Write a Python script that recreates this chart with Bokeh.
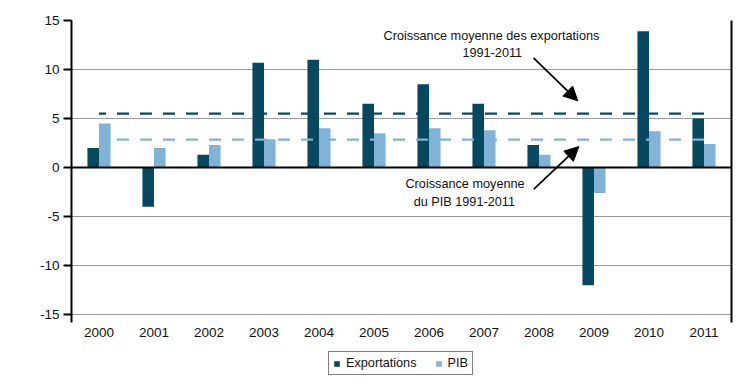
from bokeh.plotting import figure
from bokeh.layouts import column
from bokeh.models import (FactorRange, Range1d, FixedTicker, Span, Arrow, NormalHead,
                          Label, Legend, LegendItem, LinearAxis, ColumnDataSource)
from bokeh.transform import dodge
from bokeh.embed import file_html
from bokeh.resources import INLINE

years = ["2000", "2001", "2002", "2003", "2004", "2005",
         "2006", "2007", "2008", "2009", "2010", "2011"]
exportations = [2.0, -4.0, 1.3, 10.7, 11.0, 6.5, 8.5, 6.5, 2.3, -12.0, 13.9, 5.0]
pib = [4.5, 2.0, 2.3, 2.9, 4.0, 3.5, 4.0, 3.8, 1.3, -2.6, 3.7, 2.4]
avg_exportations = 5.5
avg_pib = 2.85
y_ticks = [-15, -10, -5, 0, 5, 10, 15]
series_names = ["Exportations", "PIB"]

DARK = "#05485F"
LIGHT = "#80B3D6"
FONT = "Liberation Sans"

src = ColumnDataSource(dict(year=years, exp=exportations, pib=pib))

p = figure(frame_width=660, frame_height=302, output_backend="svg", toolbar_location=None,
           x_range=FactorRange(factors=years, range_padding=0),
           y_range=Range1d(-15.8, 15),
           min_border_left=71, min_border_right=11, min_border_top=20, min_border_bottom=28)
p.outline_line_color = None
p.background_fill_color = "white"
p.border_fill_color = "white"

# bars
r_exp = p.vbar(x=dodge("year", -0.105, range=p.x_range), top="exp", bottom=0, width=0.21,
               source=src, fill_color=DARK, line_color=None)
r_pib = p.vbar(x=dodge("year", 0.105, range=p.x_range), top="pib", bottom=0, width=0.21,
               source=src, fill_color=LIGHT, line_color=None)

# average lines
p.line(x=[years[0], years[-1]], y=[avg_exportations, avg_exportations], line_color=DARK,
       line_width=2.2, line_dash="12 11", line_dash_offset=5)
p.line(x=[years[0], years[-1]], y=[avg_pib, avg_pib], line_color=LIGHT,
       line_width=2.2, line_dash="12 11", line_dash_offset=5)

# zero line
p.add_layout(Span(location=0, dimension="width", line_color="black", line_width=2))

# grid
p.xgrid.visible = False
p.ygrid.ticker = FixedTicker(ticks=[t for t in y_ticks if t != 0])
p.ygrid.grid_line_color = "#999999"
p.ygrid.grid_line_width = 1

# y axis
ya = p.yaxis[0]
ya.ticker = FixedTicker(ticks=y_ticks)
ya.major_label_overrides = {t: str(t) for t in y_ticks}
ya.axis_line_width = 2
ya.axis_line_color = "black"
ya.major_tick_line_width = 2
ya.major_tick_out = 8
ya.major_tick_in = 0
ya.minor_tick_line_color = None
ya.major_label_standoff = 4
ya.major_label_text_font = FONT
ya.major_label_text_font_size = "13.5px"
ya.major_label_text_color = "#111111"

# x axis
xa = p.xaxis[0]
xa.axis_line_color = None
xa.major_tick_line_color = None
xa.major_tick_out = 0
xa.major_tick_in = 0
xa.major_label_standoff = 5
xa.major_label_text_font = FONT
xa.major_label_text_font_size = "13.5px"
xa.major_label_text_color = "#111111"

# right border line
ra = LinearAxis(ticker=FixedTicker(ticks=[]), axis_line_width=2, axis_line_color="black",
                major_tick_line_color=None, minor_tick_line_color=None,
                major_label_text_font_size="0px")
p.add_layout(ra, "right")

# annotations
lab_kw = dict(text_font=FONT, text_font_size="12.7px", text_align="center",
              text_baseline="middle", text_color="#111111")
p.add_layout(Label(x=7.636, y=13.44, text="Croissance moyenne des exportations", **lab_kw))
p.add_layout(Label(x=7.65, y=11.70, text="1991-2011", **lab_kw))
p.add_layout(Label(x=7.155, y=-1.66, text="Croissance moyenne", **lab_kw))
p.add_layout(Label(x=7.142, y=-3.50, text="du PIB 1991-2011", **lab_kw))

head_kw = dict(size=14, fill_color="black", line_color="black")
p.add_layout(Arrow(end=NormalHead(**head_kw), x_start=8.40, y_start=11.19, x_end=9.205, y_end=6.81,
                   line_color="black", line_width=1.8))
p.add_layout(Arrow(end=NormalHead(**head_kw), x_start=8.406, y_start=-2.20, x_end=9.224, y_end=2.14,
                   line_color="black", line_width=1.8))

# legend strip (separate small figure so the legend is not clipped)
q = figure(width=742, height=28, output_backend="svg", toolbar_location=None,
           x_range=Range1d(0, 1), y_range=Range1d(0, 1),
           min_border=0, min_border_left=0, min_border_right=0, min_border_top=0, min_border_bottom=0)
q.axis.visible = False
q.grid.visible = False
q.outline_line_color = None
q.border_fill_color = "white"
q.background_fill_color = "white"
# zero-size proxies: only their colours are used, by the legend swatches
k_exp = q.vbar(x=[0], top=[0], bottom=0, width=0, fill_color=DARK, line_color=None)
k_pib = q.vbar(x=[0], top=[0], bottom=0, width=0, fill_color=LIGHT, line_color=None)

legend = Legend(items=[LegendItem(label=series_names[0], renderers=[k_exp]),
                       LegendItem(label=series_names[1], renderers=[k_pib])],
                orientation="horizontal", location=(257, 3), margin=0,
                border_line_color="black", border_line_width=1, background_fill_color="white",
                padding=4, spacing=18,
                glyph_width=7, glyph_height=7, label_standoff=6, label_height=8,
                label_text_font=FONT, label_text_font_size="12.7px", label_text_color="#111111")
q.add_layout(legend, "center")

layout = column(p, q, spacing=0)
open("out.html", "w").write(file_html(layout, INLINE))
